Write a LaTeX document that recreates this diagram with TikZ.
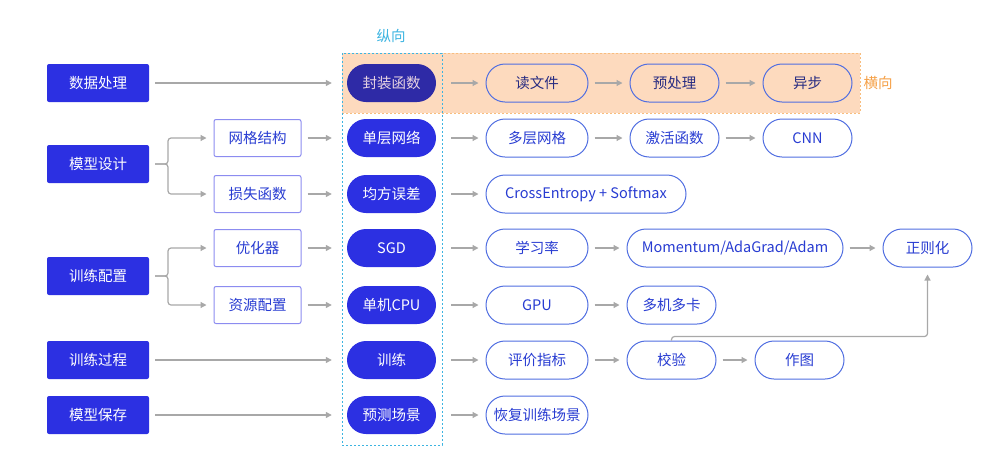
\documentclass[tikz,border=0pt]{standalone}
\usepackage{fontspec}
\setmainfont{Noto Sans CJK SC}
\usetikzlibrary{arrows.meta}
\definecolor{mainblue}{RGB}{44,48,226}
\definecolor{darkblue}{RGB}{46,42,166}
\definecolor{lineblue}{RGB}{80,110,225}
\definecolor{boxline}{RGB}{140,140,240}
\definecolor{textblue}{RGB}{40,60,210}
\definecolor{navytext}{RGB}{40,44,130}
\definecolor{wraptext}{RGB}{232,212,226}
\definecolor{arrowgray}{RGB}{168,168,168}
\definecolor{fontcyan}{RGB}{60,180,225}
\definecolor{fontorange}{RGB}{245,160,70}
\definecolor{orangefill}{RGB}{253,218,190}
\tikzset{>={Triangle[length=6pt,width=6pt]},
  base/.style={inner sep=0pt,font=\fontsize{14.5}{17}\selectfont,minimum height=38pt},
  stage/.style={base,fill=mainblue,text=white,minimum width=102pt,rounded corners=2pt},
  topic/.style={base,draw=boxline,line width=1pt,fill=white,text=textblue,minimum width=87pt,minimum height=37pt,rounded corners=2pt},
  core/.style={base,fill=mainblue,text=white,minimum width=89pt,rounded corners=19pt},
  ext/.style={base,draw=lineblue,line width=1pt,fill=white,text=textblue,minimum width=89pt,rounded corners=19pt},
  hrow/.style={ext,fill=none,text=navytext},
  link/.style={->,draw=arrowgray,line width=1.2pt,shorten <=6pt,shorten >=7pt},
}

\begin{document}
\begin{tikzpicture}[x=1pt,y=-1pt]
\useasboundingbox (0,0) rectangle (992,472);
% frames
\draw[fill=orangefill,draw=fontorange!70,dash pattern=on 2pt off 2pt,line width=0.8pt] (342,53) rectangle (860,113);
\draw[fontcyan,dash pattern=on 2pt off 2pt,line width=0.8pt] (342,53) rectangle (442,445);
\node[base,text=fontcyan] (vlabel) at (391,36) {纵向};
\node[base,text=fontorange] (hlabel) at (878,83) {横向};
% stages
\node[stage] (data) at (98,83) {数据处理};
\node[stage] (model) at (98,164) {模型设计};
\node[stage] (conf) at (98,276) {训练配置};
\node[stage] (train) at (98,360) {训练过程};
\node[stage] (save) at (98,415) {模型保存};
% topics
\node[topic] (net) at (257.5,138) {网格结构};
\node[topic] (loss) at (257.5,194) {损失函数};
\node[topic] (opt) at (257.5,248) {优化器};
\node[topic] (res) at (257.5,305) {资源配置};
% column
\node[core,fill=darkblue,text=wraptext] (wrap) at (391.5,83) {封装函数};
\node[core] (single) at (391.5,138) {单层网络};
\node[core] (mse) at (391.5,194) {均方误差};
\node[core] (sgd) at (391.5,248) {SGD};
\node[core] (cpu) at (391.5,305) {单机CPU};
\node[core] (run) at (391.5,360) {训练};
\node[core] (pred) at (391.5,415) {预测场景};
% rows
\node[hrow,minimum width=102pt] (read) at (537,83) {读文件};
\node[hrow] (prep) at (674.5,83) {预处理};
\node[hrow] (async) at (807.5,83) {异步};
\node[ext,minimum width=102pt] (multi) at (537,138) {多层网格};
\node[ext] (act) at (674.5,138) {激活函数};
\node[ext] (cnn) at (807.5,138) {CNN};
\node[ext,minimum width=200pt] (ce) at (586,194) {CrossEntropy + Softmax};
\node[ext,minimum width=102pt] (lr) at (537,248) {学习率};
\node[ext,minimum width=216pt] (mom) at (735,248) {Momentum/AdaGrad/Adam};
\node[ext] (reg) at (927.5,248) {正则化};
\node[ext,minimum width=102pt] (gpu) at (537,305) {GPU};
\node[ext] (mgpu) at (671.5,305) {多机多卡};
\node[ext,minimum width=102pt] (metric) at (537,360) {评价指标};
\node[ext] (val) at (671.5,360) {校验};
\node[ext] (plot) at (799.5,360) {作图};
\node[ext,minimum width=102pt] (resume) at (537,415) {恢复训练场景};
% links
\coordinate (mfork) at (168,164);
\coordinate (cfork) at (168,276);
\draw[link,rounded corners=3pt] (model.east) -- (mfork) |- (net.west);
\draw[link,rounded corners=3pt] (model.east) -- (mfork) |- (loss.west);
\draw[link,rounded corners=3pt] (conf.east) -- (cfork) |- (opt.west);
\draw[link,rounded corners=3pt] (conf.east) -- (cfork) |- (res.west);
\draw[link,shorten >=15pt] (data) -- (wrap);
\draw[link,shorten >=15pt] (net) -- (single);
\draw[link,shorten >=15pt] (loss) -- (mse);
\draw[link,shorten >=15pt] (opt) -- (sgd);
\draw[link,shorten >=15pt] (res) -- (cpu);
\draw[link,shorten >=15pt] (train) -- (run);
\draw[link,shorten >=15pt] (save) -- (pred);
\draw[link,shorten <=15pt] (wrap) -- (read);
\draw[link,shorten <=15pt] (single) -- (multi);
\draw[link,shorten <=15pt] (mse) -- (ce);
\draw[link,shorten <=15pt] (sgd) -- (lr);
\draw[link,shorten <=15pt] (cpu) -- (gpu);
\draw[link,shorten <=15pt] (run) -- (metric);
\draw[link,shorten <=15pt] (pred) -- (resume);
\draw[link] (read) -- (prep);
\draw[link] (prep) -- (async);
\draw[link] (multi) -- (act);
\draw[link] (act) -- (cnn);
\draw[link] (lr) -- (mom);
\draw[link] (mom) -- (reg);
\draw[link] (gpu) -- (mgpu);
\draw[link] (metric) -- (val);
\draw[link] (val) -- (plot);
\draw[link,rounded corners=3pt,shorten <=0pt] (val.north) -- ++(0,-4) -| (reg.south);
\end{tikzpicture}
\end{document}
